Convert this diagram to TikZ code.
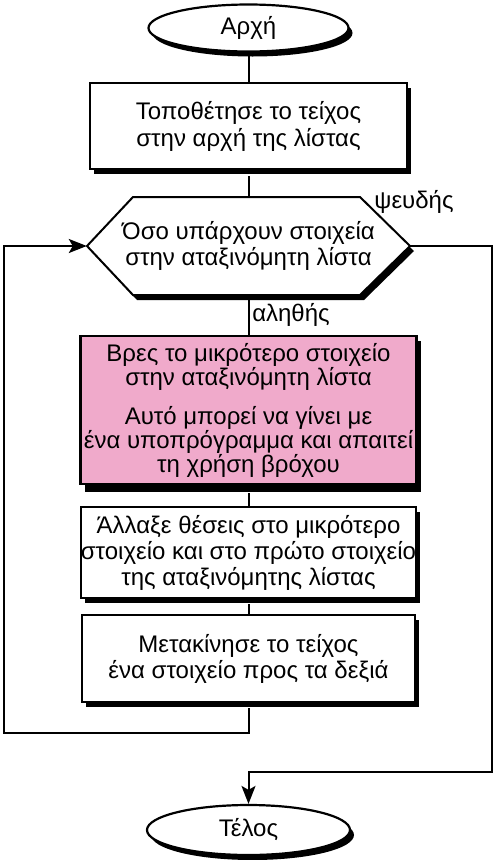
\documentclass[tikz,border=0pt]{standalone}
\usepackage{fontspec}
\setmainfont{Liberation Sans}
\usetikzlibrary{shapes.geometric,shadows,arrows.meta,calc}
\definecolor{pinkbox}{HTML}{F0AACB}
\tikzset{
  sh/.style={drop shadow={shadow xshift=4pt,shadow yshift=-5pt,fill=black,opacity=1}},
  term/.style={ellipse,draw,line width=2.2pt,fill=white,sh,inner sep=0pt},
  procbox/.style={rectangle,draw,line width=2.2pt,fill=white,sh,align=center,inner sep=0pt},
  conn/.style={line width=2pt},
  arr/.style={conn,-{Stealth[length=18pt,width=14pt,inset=4pt]}},
  lbl/.style={inner sep=0pt},
}
\begin{document}
\begin{tikzpicture}[x=1pt,y=-1pt,font=\fontsize{24}{26}\selectfont]
\useasboundingbox (0,0) rectangle (494,860);
\node[term,minimum width=200pt,minimum height=47pt] (start) at (248.5,28) {Αρχή};
\node[procbox,minimum width=317pt,minimum height=86pt] (b1) at (248.5,126) {Τοποθέτησε το τείχος\\[1pt]στην αρχή της λίστας};
% decision hexagon
\fill[black] (91,251) -- (137,202) -- (364,202) -- (414,251) -- (364,300) -- (137,300) -- cycle;
\filldraw[fill=white,line width=2pt] (87,246) -- (133,197) -- (360,197) -- (410,246) -- (360,295) -- (133,295) -- cycle;
\node[minimum width=323pt,minimum height=98pt,inner sep=0pt,align=center] (dec) at (248.5,246) {Όσο υπάρχουν στοιχεία\\στην αταξινόμητη λίστα};
\node[procbox,fill=pinkbox,minimum width=336pt,minimum height=148pt,drop shadow={shadow xshift=4pt,shadow yshift=-8pt,fill=black,opacity=1}] (find) at (248.5,410) {Βρες το μικρότερο στοιχείο\\[-2pt]στην αταξινόμητη λίστα\\[13pt]Αυτό μπορεί να γίνει με\\[-2pt]ένα υποπρόγραμμα και απαιτεί\\[-2pt]τη χρήση βρόχου};
\node[procbox,minimum width=333pt,minimum height=91pt] (swap) at (248.5,552.5) {Άλλαξε θέσεις στο μικρότερο\\στοιχείο και στο πρώτο στοιχείο\\της αταξινόμητης λίστας};
\node[procbox,minimum width=333pt,minimum height=87pt] (move) at (248.5,658.5) {Μετακίνησε το τείχος\\ένα στοιχείο προς τα δεξιά};
\node[term,minimum width=203pt,minimum height=50pt] (end) at (248.5,830) {Τέλος};
\node[lbl] (f) at (414,202) {ψευδής};
\node[lbl] (t) at (291,315) {αληθής};
% connectors
\draw[conn] (start.south) -- (b1.north);
\draw[conn] (b1.south) ++(0,6) -- (dec.north);
\draw[conn] (dec.south) ++(0,5) -- (find.north);
\draw[conn] (find.south) ++(0,8) -- (swap.north);
\draw[conn] (swap.south) ++(0,5) -- (move.north);
\coordinate (ll) at (4,733);
\coordinate (rr) at (492,772);
\draw[arr] (move.south) ++(0,5) -- (move.south |- ll) -- (ll) |- (dec.west);
\draw[arr] (dec.east) -| (rr) -- (end.north |- rr) -- (end.north);
\end{tikzpicture}
\end{document}
